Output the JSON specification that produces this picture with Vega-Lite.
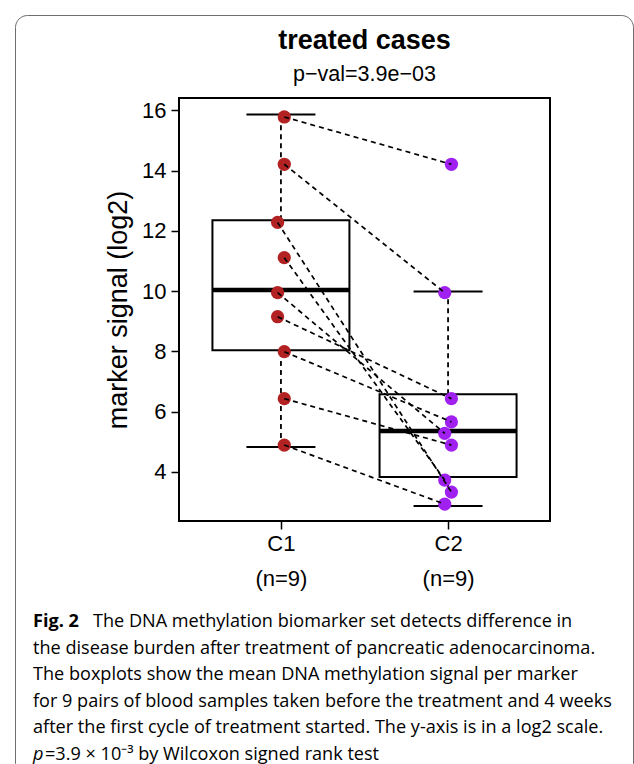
{
  "$schema": "https://vega.github.io/schema/vega-lite/v6.json",
  "background": "white",
  "padding": {"left": 14, "top": 14, "right": 0, "bottom": 0},
  "bounds": "flush",
  "spacing": 0,
  "config": {
    "font": "Liberation Sans",
    "axis": {
      "grid": false,
      "domain": false,
      "ticks": true,
      "tickColor": "black",
      "tickWidth": 1.5,
      "tickSize": 8,
      "labelColor": "black",
      "labelFont": "Liberation Sans",
      "labelFontSize": 22,
      "labelFlush": false,
      "labelOverlap": false,
      "titleFont": "Liberation Sans",
      "titleColor": "black",
      "titleFontWeight": "normal"
    },
    "axisY": {"titleFontSize": 27, "labelPadding": 5, "titlePadding": 9},
    "axisX": {"labelPadding": 4, "labelLineHeight": 35}
  },
  "datasets": {
    "samples": [
      {"pair": 1, "group": "C1", "xj": 1.02, "value": 15.78},
      {"pair": 2, "group": "C1", "xj": 1.02, "value": 14.21},
      {"pair": 3, "group": "C1", "xj": 0.98, "value": 12.28},
      {"pair": 4, "group": "C1", "xj": 1.02, "value": 11.11},
      {"pair": 5, "group": "C1", "xj": 0.98, "value": 9.95},
      {"pair": 6, "group": "C1", "xj": 0.98, "value": 9.15},
      {"pair": 7, "group": "C1", "xj": 1.02, "value": 7.99},
      {"pair": 8, "group": "C1", "xj": 1.02, "value": 6.43},
      {"pair": 9, "group": "C1", "xj": 1.02, "value": 4.89},
      {"pair": 1, "group": "C2", "xj": 2.02, "value": 14.21},
      {"pair": 2, "group": "C2", "xj": 1.98, "value": 9.95},
      {"pair": 3, "group": "C2", "xj": 2.02, "value": 3.33},
      {"pair": 4, "group": "C2", "xj": 1.98, "value": 3.73},
      {"pair": 5, "group": "C2", "xj": 1.98, "value": 5.28},
      {"pair": 6, "group": "C2", "xj": 2.02, "value": 6.43},
      {"pair": 7, "group": "C2", "xj": 2.02, "value": 5.66},
      {"pair": 8, "group": "C2", "xj": 2.02, "value": 4.89},
      {"pair": 9, "group": "C2", "xj": 1.98, "value": 2.93}
    ],
    "summary": [
      {"group": "C1", "xpos": 1, "lo": 4.83, "q1": 8.04, "med": 10.04, "q3": 12.35, "hi": 15.86},
      {"group": "C2", "xpos": 2, "lo": 2.87, "q1": 3.83, "med": 5.36, "q3": 6.58, "hi": 9.99}
    ],
    "caption": [
      {"line": 1, "part": "label", "text": "Fig. 2"},
      {"line": 1, "part": "body", "text": "The DNA methylation biomarker set detects difference in"},
      {"line": 2, "part": "body", "text": "the disease burden after treatment of pancreatic adenocarcinoma."},
      {"line": 3, "part": "body", "text": "The boxplots show the mean DNA methylation signal per marker"},
      {"line": 4, "part": "body", "text": "for 9 pairs of blood samples taken before the treatment and 4 weeks"},
      {"line": 5, "part": "body", "text": "after the first cycle of treatment started. The y-axis is in a log2 scale."},
      {"line": 6, "part": "symbol", "text": "p"},
      {"line": 6, "part": "body", "text": "=3.9 × 10⁻³ by Wilcoxon signed rank test"}
    ]
  },
  "vconcat": [
    {
      "bounds": "flush",
      "spacing": 0,
      "vconcat": [
        {
          "width": 10,
          "height": 83,
          "view": {"stroke": null},
          "data": {"values": []},
          "mark": "point"
        },
        {
          "bounds": "flush",
          "spacing": 64,
          "hconcat": [
            {
              "width": 100,
              "height": 10,
              "view": {"stroke": null},
              "data": {"values": []},
              "mark": "point"
            },
            {
              "width": 371,
              "height": 423,
              "view": {"stroke": "black", "strokeWidth": 2},
              "title": {
                "text": "treated cases",
                "subtitle": "p−val=3.9e−03",
                "font": "Liberation Sans",
                "fontSize": 27,
                "fontWeight": "bold",
                "color": "black",
                "subtitleFont": "Liberation Sans",
                "subtitleFontSize": 21.5,
                "subtitleColor": "black",
                "anchor": "middle",
                "offset": 12,
                "subtitlePadding": 9
              },
              "layer": [
                {
                  "data": {"name": "summary"},
                  "mark": {"type": "bar", "size": 137, "fill": "white", "stroke": "black", "strokeWidth": 2},
                  "encoding": {
                    "x": {"field": "xpos", "type": "quantitative", "title": null,
                          "scale": {"domain": [0.42, 2.58], "nice": false, "zero": false},
                          "axis": {"values": [1, 2], "labelExpr": "datum.value == 1 ? ['C1', '(n=9)'] : ['C2', '(n=9)']"}},
                    "y": {"field": "q1", "type": "quantitative", "title": "marker signal (log2)",
                          "scale": {"domain": [2.37, 16.41], "nice": false, "zero": false},
                          "axis": {"values": [4, 6, 8, 10, 12, 14, 16]}},
                    "y2": {"field": "q3"}
                  }
                },
                {
                  "data": {"name": "summary"},
                  "mark": {"type": "rule", "strokeDash": [5, 4], "strokeWidth": 1.8, "color": "black"},
                  "encoding": {
                    "x": {"field": "xpos", "type": "quantitative", "title": null},
                    "y": {"field": "q3", "type": "quantitative", "title": "marker signal (log2)"},
                    "y2": {"field": "hi"}
                  }
                },
                {
                  "data": {"name": "summary"},
                  "mark": {"type": "rule", "strokeDash": [5, 4], "strokeWidth": 1.8, "color": "black"},
                  "encoding": {
                    "x": {"field": "xpos", "type": "quantitative", "title": null},
                    "y": {"field": "lo", "type": "quantitative", "title": "marker signal (log2)"},
                    "y2": {"field": "q1"}
                  }
                },
                {
                  "data": {"name": "summary"},
                  "mark": {"type": "tick", "orient": "horizontal", "size": 137, "thickness": 4.5, "color": "black", "opacity": 1},
                  "encoding": {
                    "x": {"field": "xpos", "type": "quantitative", "title": null},
                    "y": {"field": "med", "type": "quantitative", "title": "marker signal (log2)"}
                  }
                },
                {
                  "data": {"name": "summary"},
                  "mark": {"type": "tick", "orient": "horizontal", "size": 69, "thickness": 2, "color": "black", "opacity": 1},
                  "encoding": {
                    "x": {"field": "xpos", "type": "quantitative", "title": null},
                    "y": {"field": "hi", "type": "quantitative", "title": "marker signal (log2)"}
                  }
                },
                {
                  "data": {"name": "summary"},
                  "mark": {"type": "tick", "orient": "horizontal", "size": 69, "thickness": 2, "color": "black", "opacity": 1},
                  "encoding": {
                    "x": {"field": "xpos", "type": "quantitative", "title": null},
                    "y": {"field": "lo", "type": "quantitative", "title": "marker signal (log2)"}
                  }
                },
                {
                  "data": {"name": "samples"},
                  "mark": {"type": "circle", "size": 175, "opacity": 1},
                  "encoding": {
                    "x": {"field": "xj", "type": "quantitative", "title": null},
                    "y": {"field": "value", "type": "quantitative", "title": "marker signal (log2)"},
                    "color": {"field": "group", "type": "nominal", "scale": {"domain": ["C1", "C2"], "range": ["#B22222", "#A020F0"]}, "legend": null}
                  }
                },
                {
                  "data": {"name": "samples"},
                  "mark": {"type": "line", "strokeDash": [5, 4], "strokeWidth": 1.7, "color": "black"},
                  "encoding": {
                    "x": {"field": "xj", "type": "quantitative", "title": null},
                    "y": {"field": "value", "type": "quantitative", "title": "marker signal (log2)"},
                    "detail": {"field": "pair", "type": "nominal"}
                  }
                }
              ]
            }
          ]
        }
      ]
    },
    {
      "width": 618,
      "height": 760,
      "view": {"stroke": "#6e6e6e", "strokeWidth": 1, "cornerRadius": 12},
      "data": {"name": "caption"},
      "encoding": {
        "x": {"datum": 0, "type": "quantitative", "scale": {"domain": [0, 1], "nice": false, "zero": false}, "axis": null},
        "y": {"field": "line", "type": "quantitative", "scale": {"domain": [-22.008, 6.564], "reverse": true, "nice": false, "zero": false}, "axis": null},
        "text": {"field": "text"}
      },
      "layer": [
        {
          "transform": [{"filter": "datum.part == 'label'"}],
          "mark": {"type": "text", "align": "left", "baseline": "alphabetic", "font": "Open Sans", "fontSize": 18.1, "fontWeight": "bold", "color": "black", "dx": 18}
        },
        {
          "transform": [{"filter": "datum.part == 'body' && datum.line == 1"}],
          "mark": {"type": "text", "align": "left", "baseline": "alphabetic", "font": "Open Sans", "fontSize": 18.1, "color": "black", "dx": 78}
        },
        {
          "transform": [{"filter": "datum.part == 'body' && datum.line > 1 && datum.line < 6"}],
          "mark": {"type": "text", "align": "left", "baseline": "alphabetic", "font": "Open Sans", "fontSize": 18.1, "color": "black", "dx": 18}
        },
        {
          "transform": [{"filter": "datum.part == 'symbol'"}],
          "mark": {"type": "text", "align": "left", "baseline": "alphabetic", "font": "Open Sans", "fontSize": 18.1, "fontStyle": "italic", "color": "black", "dx": 18}
        },
        {
          "transform": [{"filter": "datum.part == 'body' && datum.line == 6"}],
          "mark": {"type": "text", "align": "left", "baseline": "alphabetic", "font": "Open Sans", "fontSize": 18.1, "color": "black", "dx": 30}
        }
      ]
    }
  ]
}
